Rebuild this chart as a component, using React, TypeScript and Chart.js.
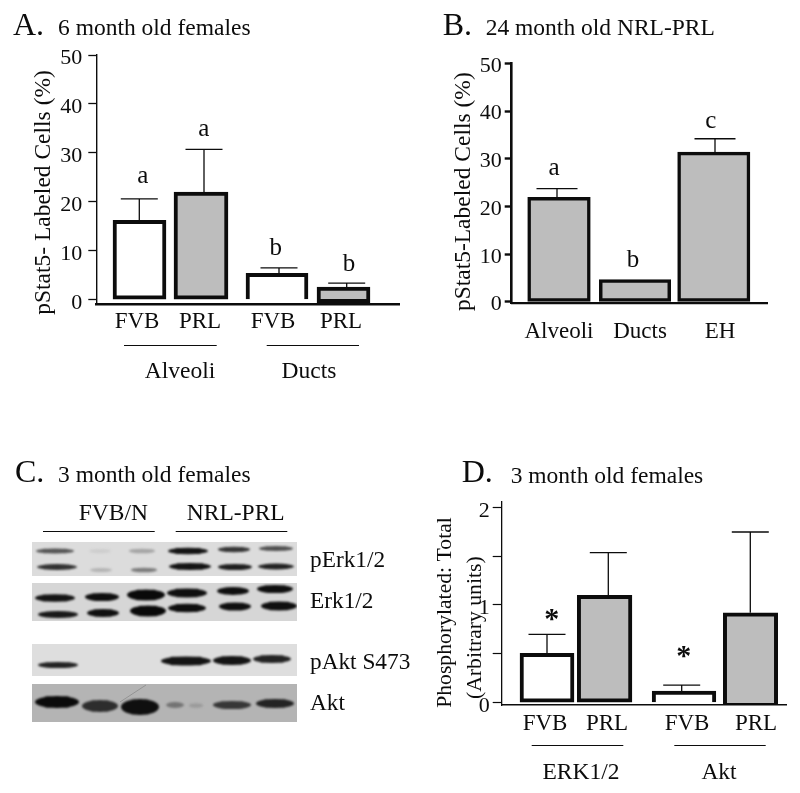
import React, { useEffect, useRef } from "react";
import { Chart, registerables } from "chart.js";

Chart.register(...registerables);

const SERIF = '"Liberation Serif"';
const INK = "#0c0c0c";
const GREY = "#bdbdbd";

// ---------- Panel A data ----------
const aCategories = ["FVB", "PRL", "FVB", "PRL"];
const aValues = [16.2, 22, 5.4, 2.6];
const aErrorTops = [20.6, 30.7, 6.5, 3.4];
const aYTicks = [0, 10, 20, 30, 40, 50];
const aLetters = ["a", "a", "b", "b"];
const aGroups = ["Alveoli", "Ducts"];

// ---------- Panel B data ----------
const bCategories = ["Alveoli", "Ducts", "EH"];
const bValues = [21.9, 4.7, 31.4];
const bErrorTops = [23.75, 4.7, 34.2];
const bYTicks = [0, 10, 20, 30, 40, 50];
const bLetters = ["a", "b", "c"];

// ---------- Panel D data ----------
const dCategories = ["FVB", "PRL", "FVB", "PRL"];
const dValues = [0.506, 1.1, 0.12, 0.92];
const dErrorTops = [0.7, 1.535, 0.18, 1.747];
const dYTicks = [0, 0.5, 1, 1.5, 2];
const dYLabelled = [0, 1, 2];
const dMarks = ["*", "*"];
const dGroups = ["ERK1/2", "Akt"];

// ---------- Panel C data: [position along gel, position down gel, half width, half thickness, grey] ----------
const cHeaders = ["FVB/N", "NRL-PRL"];
const cBlotNames = ["pErk1/2", "Erk1/2", "pAkt S473", "Akt"];
const cStrips = [
  [542, 576, "#dcdcdc"],
  [583, 621, "#d6d6d6"],
  [644, 676, "#dedede"],
  [684, 722, "#b4b4b4"],
];
const pErkBands = [
  [55, 551, 18, 2.2, 85], [100, 551, 10, 1.8, 205], [142, 551, 12, 2, 165], [188, 551, 19, 3, 20], [234, 549.5, 15, 2.4, 55], [276, 548.5, 16, 2.2, 80],
  [57, 567, 19, 2.6, 50], [101, 570, 10, 1.8, 180], [144, 570, 12, 2, 125], [190, 566.5, 20, 3.2, 20], [235, 567, 16, 2.8, 30], [276, 566.5, 17, 2.6, 35],
];
const erkBands = [
  [55, 598, 19, 3.5, 20], [102, 597, 16, 3.8, 15], [146, 595, 18, 5.2, 10], [187, 593, 19, 4.2, 15], [233, 591, 15, 3.6, 15], [275, 589, 17, 3.8, 15],
  [58, 614.5, 19, 3.1, 25], [103, 613, 15, 3.7, 15], [148, 611, 17, 5.2, 10], [187, 608, 18, 4, 15], [235, 606.5, 15, 3.8, 15], [279, 606, 17, 4.2, 15],
];
const pAktBands = [
  [58, 665, 19, 2.8, 35], [186, 661, 24, 4.2, 20], [232, 660.5, 18, 4.2, 20], [272, 659, 18, 3.7, 35],
];
const aktBands = [
  [57, 702, 21, 5.8, 10], [100, 706, 17, 5.8, 45], [140, 707, 18, 7.8, 15], [175, 705, 8, 2.6, 115], [196, 705.5, 6, 2, 155], [232, 705, 18, 3.8, 55], [275, 703.5, 18, 4.2, 35],
];
const cBands = [...pErkBands, ...erkBands, ...pAktBands, ...aktBands];

// ---------- Layout (page pixels), separate from the data ----------
type Txt = { t: string; x: number; y: number; size: number; align?: CanvasTextAlign; rot?: boolean; bold?: boolean };
type Rule = [number, number, number];

const headingA: Txt[] = [
  { t: "A.", x: 13, y: 35, size: 32 },
  { t: "6 month old females", x: 58, y: 34.5, size: 23.5 },
  { t: "pStat5- Labeled Cells (%)", x: 50, y: 192.5, size: 23.5, rot: true, align: "center" },
  { t: aLetters[0], x: 142.7, y: 183, size: 25, align: "center" },
  { t: aLetters[1], x: 203.7, y: 136, size: 25, align: "center" },
  { t: aLetters[2], x: 275.7, y: 255, size: 25, align: "center" },
  { t: aLetters[3], x: 349, y: 271, size: 25, align: "center" },
  { t: aGroups[0], x: 180, y: 377.5, size: 23.5, align: "center" },
  { t: aGroups[1], x: 309, y: 377.5, size: 23.5, align: "center" },
];
const rulesA: Rule[] = [[124, 216.7, 345.5], [266.7, 359, 345.5]];
const headingB: Txt[] = [
  { t: "B.", x: 442.7, y: 34.5, size: 32 },
  { t: "24 month old NRL-PRL", x: 485.7, y: 34.5, size: 23.5 },
  { t: "pStat5-Labeled Cells (%)", x: 470, y: 191.7, size: 23.5, rot: true, align: "center" },
  { t: bLetters[0], x: 554, y: 175, size: 25, align: "center" },
  { t: bLetters[1], x: 633, y: 267, size: 25, align: "center" },
  { t: bLetters[2], x: 710.7, y: 128, size: 25, align: "center" },
];
const headingC: Txt[] = [
  { t: "C.", x: 15, y: 482, size: 32 },
  { t: "3 month old females", x: 58, y: 482, size: 23.5 },
  { t: cHeaders[0], x: 113.3, y: 520, size: 23.5, align: "center" },
  { t: cHeaders[1], x: 235.7, y: 520, size: 23.5, align: "center" },
  { t: cBlotNames[0], x: 310, y: 567, size: 23.3 },
  { t: cBlotNames[1], x: 310, y: 608, size: 23.3 },
  { t: cBlotNames[2], x: 310, y: 669, size: 23.3 },
  { t: cBlotNames[3], x: 310, y: 710, size: 23.3 },
];
const rulesC: Rule[] = [[43, 154.7, 531.5], [175.7, 287.3, 531.5]];
const headingD: Txt[] = [
  { t: "D.", x: 461.7, y: 481.7, size: 32 },
  { t: "3 month old females", x: 510.7, y: 483, size: 23.5 },
  { t: "Phosphorylated: Total", x: 450.5, y: 612.5, size: 21.7, rot: true, align: "center" },
  { t: "(Arbitrary units)", x: 480.5, y: 627.7, size: 21.7, rot: true, align: "center" },
  { t: dMarks[0], x: 551.7, y: 628, size: 30, align: "center", bold: true },
  { t: dMarks[1], x: 683.7, y: 665, size: 30, align: "center", bold: true },
  { t: dGroups[0], x: 581, y: 779, size: 23.5, align: "center" },
  { t: dGroups[1], x: 719, y: 779, size: 23.5, align: "center" },
];
const rulesD: Rule[] = [[531.7, 623.3, 745.5], [674.3, 765.7, 745.5]];

type PanelSpec = {
  box: [number, number, number, number];
  plot: [number, number, number, number];
  yRange: [number, number];
  categories: string[];
  values: number[];
  errorTops: number[];
  barPositions: number[];
  barWidths: number[];
  errorPositions: number[];
  labelPositions: number[];
  fills: string[];
  open: boolean[];
  bases: number[];
  yTicks: number[];
  yLabelled: number[];
  yBorder: number;
  xBorder: number;
  tickLen: number;
  tickWidth: number;
  tickPad: number;
  labelShift: number;
  yFont: number;
  xFont: number;
  xPad: number;
  barBorder: number;
  capHalf: number;
  texts: Txt[];
  rules: Rule[];
};

const panelA: PanelSpec = {
  box: [0, 0, 410, 400],
  plot: [96.3, 55, 399, 304],
  yRange: [-0.87, 50],
  categories: aCategories,
  values: aValues,
  errorTops: aErrorTops,
  barPositions: [139.5, 201, 277, 343.5],
  barWidths: [53, 54, 62, 53],
  errorPositions: [139.3, 204, 279, 346.7],
  labelPositions: [137, 200, 273, 341],
  fills: ["#ffffff", GREY, "#ffffff", GREY],
  open: [false, false, true, false],
  bases: [0, 0, 0, -0.6],
  yTicks: aYTicks,
  yLabelled: aYTicks,
  yBorder: 1.4,
  xBorder: 2.6,
  tickLen: 8,
  tickWidth: 1.3,
  tickPad: 6,
  labelShift: 3.5,
  yFont: 22,
  xFont: 23,
  xPad: -4,
  barBorder: 4,
  capHalf: 18.5,
  texts: headingA,
  rules: rulesA,
};

const panelB: PanelSpec = {
  box: [410, 0, 390, 400],
  plot: [511.7, 63.3, 767, 303],
  yRange: [-0.21, 50],
  categories: bCategories,
  values: bValues,
  errorTops: bErrorTops,
  barPositions: [559, 635, 713.8],
  barWidths: [62.6, 71.4, 72.3],
  errorPositions: [557, 640, 715],
  labelPositions: [559, 640, 720],
  fills: [GREY, GREY, GREY],
  open: [false, false, false],
  bases: [0, 0, 0],
  yTicks: bYTicks,
  yLabelled: bYTicks,
  yBorder: 2.6,
  xBorder: 2.2,
  tickLen: 7,
  tickWidth: 2.4,
  tickPad: 3,
  labelShift: 2.5,
  yFont: 22,
  xFont: 23,
  xPad: 7,
  barBorder: 3.5,
  capHalf: 20.5,
  texts: headingB,
  rules: [],
};

const panelD: PanelSpec = {
  box: [410, 440, 390, 353],
  plot: [501.3, 501.7, 786, 705],
  yRange: [-0.0235, 2.057],
  categories: dCategories,
  values: dValues,
  errorTops: dErrorTops,
  barPositions: [547, 604.6, 684, 750.5],
  barWidths: [54, 54.7, 63.7, 54.4],
  errorPositions: [547, 608.3, 681.7, 750.3],
  labelPositions: [545, 607, 687, 756],
  fills: ["#ffffff", GREY, "#ffffff", GREY],
  open: [false, false, true, false],
  bases: [0, 0, 0, -0.04],
  yTicks: dYTicks,
  yLabelled: dYLabelled,
  yBorder: 1.3,
  xBorder: 1.6,
  tickLen: 8.6,
  tickWidth: 1.2,
  tickPad: 3,
  labelShift: 3.5,
  yFont: 22,
  xFont: 23,
  xPad: -3,
  barBorder: 4,
  capHalf: 18.5,
  texts: headingD,
  rules: rulesD,
};

function drawOverlay(ctx: CanvasRenderingContext2D, box: number[], texts: Txt[], rules: Rule[]) {
  ctx.save();
  ctx.translate(-box[0], -box[1]);
  ctx.fillStyle = INK;
  ctx.strokeStyle = INK;
  ctx.lineWidth = 1.1;
  ctx.textBaseline = "alphabetic";
  for (const r of rules) {
    ctx.beginPath();
    ctx.moveTo(r[0], r[2]);
    ctx.lineTo(r[1], r[2]);
    ctx.stroke();
  }
  for (const t of texts) {
    ctx.save();
    ctx.font = `${t.bold ? "bold " : ""}${t.size}px ${SERIF}`;
    ctx.textAlign = t.align || "left";
    ctx.translate(t.x, t.y);
    if (t.rot) ctx.rotate(-Math.PI / 2);
    ctx.fillText(t.t, 0, 0);
    ctx.restore();
  }
  ctx.restore();
}

function barConfig(p: PanelSpec): any {
  const [bl, bt, bw, bh] = p.box;
  const [pl, pt, pr, pb] = p.plot;
  const errorBars = {
    id: "errorBars",
    beforeDatasetsDraw(chart: any) {
      const { ctx, scales } = chart;
      ctx.save();
      ctx.strokeStyle = INK;
      ctx.lineWidth = 1.3;
      p.errorTops.forEach((top, i) => {
        if (top <= p.values[i]) return;
        const x = scales.x.getPixelForValue(p.errorPositions[i]);
        const y0 = scales.y.getPixelForValue(p.values[i]);
        const y1 = scales.y.getPixelForValue(top);
        ctx.beginPath();
        ctx.moveTo(x, y0);
        ctx.lineTo(x, y1);
        ctx.moveTo(x - p.capHalf, y1);
        ctx.lineTo(x + p.capHalf, y1);
        ctx.stroke();
      });
      ctx.restore();
    },
  };
  const overlay = {
    id: "overlay",
    afterDraw(chart: any) {
      drawOverlay(chart.ctx, p.box, p.texts, p.rules);
    },
  };
  return {
    type: "bar",
    data: {
      datasets: p.values.map((v, i) => ({
        label: p.categories[i],
        data: [{ x: p.barPositions[i], y: v }],
        backgroundColor: p.fills[i],
        borderColor: INK,
        borderWidth: p.barBorder,
        barThickness: p.barWidths[i],
        grouped: false,
        base: p.bases[i],
        borderSkipped: p.open[i] ? "bottom" : false,
      })),
    },
    options: {
      responsive: false,
      animation: false,
      layout: { padding: { left: 0, top: pt - bt, right: bl + bw - pr, bottom: 0 } },
      plugins: { legend: { display: false }, tooltip: { enabled: false }, title: { display: false } },
      scales: {
        x: {
          type: "linear",
          min: pl,
          max: pr,
          offset: false,
          grid: { display: false, offset: false },
          border: { display: true, color: INK, width: p.xBorder },
          afterBuildTicks: (s: any) => {
            s.ticks = p.labelPositions.map((value) => ({ value }));
          },
          afterFit: (s: any) => {
            s.height = bt + bh - pb;
          },
          ticks: {
            autoSkip: false,
            maxRotation: 0,
            minRotation: 0,
            padding: p.xPad,
            color: INK,
            font: { family: SERIF, size: p.xFont },
            callback: (_v: number, i: number) => p.categories[i],
          },
        },
        y: {
          type: "linear",
          min: p.yRange[0],
          max: p.yRange[1],
          grid: {
            display: true,
            drawOnChartArea: false,
            drawTicks: true,
            tickLength: p.tickLen,
            tickWidth: p.tickWidth,
            tickColor: INK,
          },
          border: { display: true, color: INK, width: p.yBorder },
          afterBuildTicks: (s: any) => {
            s.ticks = p.yTicks.map((value) => ({ value }));
          },
          afterFit: (s: any) => {
            s.width = pl - bl;
          },
          ticks: {
            autoSkip: false,
            padding: p.tickPad,
            labelOffset: p.labelShift,
            color: INK,
            font: { family: SERIF, size: p.yFont },
            callback: (v: number) => (p.yLabelled.includes(v) ? String(v) : ""),
          },
        },
      },
    },
    plugins: [errorBars, overlay],
  };
}

const blotBox: [number, number, number, number] = [0, 440, 410, 300];
const blotPlot: [number, number, number, number] = [32, 542, 297, 722];

function blotConfig(): any {
  const [bl, bt, bw, bh] = blotBox;
  const [pl, pt, pr, pb] = blotPlot;
  const blot = {
    id: "blot",
    beforeDatasetsDraw(chart: any) {
      const { ctx, scales } = chart;
      const X = (v: number) => scales.x.getPixelForValue(v);
      const Y = (v: number) => scales.y.getPixelForValue(v);
      ctx.save();
      for (const [a, b, colour] of cStrips as [number, number, string][]) {
        ctx.fillStyle = colour;
        ctx.fillRect(X(pl), Y(a), X(pr) - X(pl), Y(b) - Y(a));
      }
      // clip band blur to the strips
      ctx.beginPath();
      for (const [a, b] of cStrips as [number, number, string][]) {
        ctx.rect(X(pl), Y(a), X(pr) - X(pl), Y(b) - Y(a));
      }
      ctx.clip();
      ctx.filter = "blur(1.3px)";
      for (const [x, y, hw, hh, g] of cBands) {
        ctx.fillStyle = `rgb(${g},${g},${g})`;
        ctx.beginPath();
        ctx.ellipse(X(x), Y(y), hw + 1, hh + 0.3, 0, 0, Math.PI * 2);
        ctx.roundRect(X(x) - hw * 0.75, Y(y) - hh, hw * 1.5, hh * 2, hh);
        ctx.fill();
      }
      ctx.filter = "none";
      ctx.strokeStyle = "#8c8c8c";
      ctx.lineWidth = 0.8;
      ctx.beginPath();
      ctx.moveTo(X(120), Y(702));
      ctx.lineTo(X(146), Y(685));
      ctx.stroke();
      ctx.restore();
    },
  };
  const overlay = {
    id: "overlay",
    afterDraw(chart: any) {
      drawOverlay(chart.ctx, blotBox, headingC, rulesC);
    },
  };
  return {
    type: "scatter",
    data: { datasets: [{ label: "blot", data: [], pointRadius: 0 }] },
    options: {
      responsive: false,
      animation: false,
      layout: { padding: { left: pl - bl, top: pt - bt, right: bl + bw - pr, bottom: bt + bh - pb } },
      plugins: { legend: { display: false }, tooltip: { enabled: false } },
      scales: {
        x: { type: "linear", display: false, min: pl, max: pr },
        y: { type: "linear", display: false, min: pt, max: pb, reverse: true },
      },
    },
    plugins: [blot, overlay],
  };
}

function Panel({ box, make }: { box: number[]; make: () => any }) {
  const ref = useRef<HTMLCanvasElement>(null);
  useEffect(() => {
    const chart = new Chart(ref.current as HTMLCanvasElement, make());
    return () => chart.destroy();
  }, []);
  return (
    <canvas
      ref={ref}
      width={box[2]}
      height={box[3]}
      style={{ position: "absolute", left: box[0], top: box[1], width: box[2], height: box[3], display: "block" }}
    />
  );
}

export default function App() {
  return (
    <div style={{ position: "absolute", left: 0, top: 0, width: 800, height: 793, background: "#fff", overflow: "hidden" }}>
      <Panel box={panelA.box} make={() => barConfig(panelA)} />
      <Panel box={panelB.box} make={() => barConfig(panelB)} />
      <Panel box={blotBox} make={blotConfig} />
      <Panel box={panelD.box} make={() => barConfig(panelD)} />
    </div>
  );
}
